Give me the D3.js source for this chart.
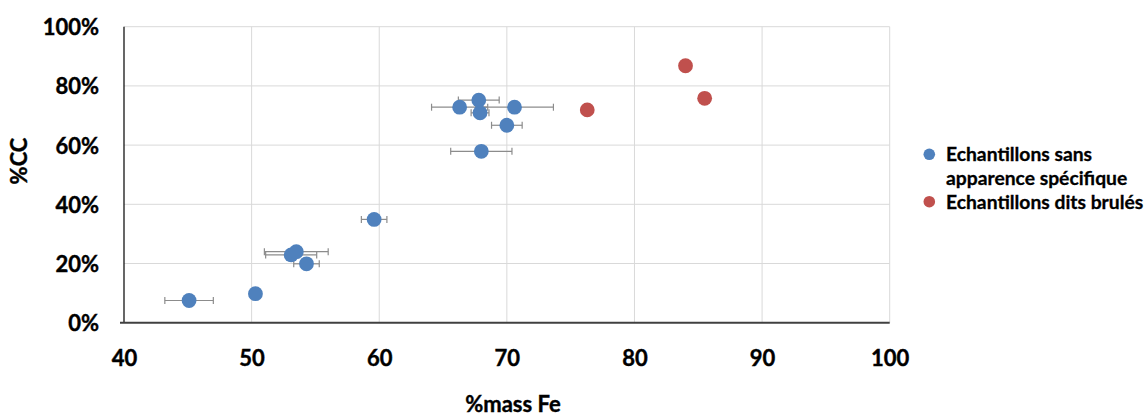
<!DOCTYPE html>
<html>
<head>
<meta charset="utf-8">
<script src="https://cdn.jsdelivr.net/npm/d3@7/dist/d3.min.js"></script>
<style>
  html, body { margin: 0; padding: 0; background: #ffffff; }
  svg { display: block; }
  text { font-family: Lato, "Open Sans", "DejaVu Sans", sans-serif; font-weight: bold; fill: #000; }
</style>
</head>
<body>
<svg id="chart" width="1146" height="415"></svg>
<script>
// ---- data ----
const seriesNames = ["Echantillons sans apparence spécifique", "Echantillons dits brulés"];
const legendLines = [["Echantillons sans", "apparence spécifique"], ["Echantillons dits brulés"]];
const blueX   = [45.1, 50.3, 53.1, 53.5, 54.3, 59.6, 66.3, 67.8, 67.9, 70.6, 70.0, 68.0];
const blueY   = [7.5, 9.8, 22.9, 24.0, 19.9, 34.9, 72.8, 75.2, 70.9, 72.8, 66.7, 57.9];
const blueErr = [1.9, 0, 2.0, 2.5, 1.0, 1.0, 2.2, 1.6, 0.7, 3.05, 1.2, 2.4];
const redX    = [76.3, 84.0, 85.5];
const redY    = [71.9, 86.8, 75.8];
const xTicks  = [40, 50, 60, 70, 80, 90, 100];
const yTicks  = [0, 20, 40, 60, 80, 100];
const xTitle  = "%mass Fe";
const yTitle  = "%CC";
const colors  = ["#4f81bd", "#c0504d"];

// ---- layout ----
const svg = d3.select("#chart");
const pLeft = 124, pRight = 889.7, pTop = 26.7, pBottom = 322.7;
const x = d3.scaleLinear().domain([40, 100]).range([pLeft, pRight]);
const y = d3.scaleLinear().domain([0, 100]).range([pBottom, pTop]);

// gridlines
const grid = svg.append("g");
grid.selectAll("line.gx").data(xTicks.slice(1)).join("line")
  .attr("x1", d => x(d)).attr("x2", d => x(d))
  .attr("y1", pTop).attr("y2", pBottom)
  .attr("stroke", "#d9d9d9").attr("stroke-width", 1);
grid.selectAll("line.gy").data(yTicks.slice(1)).join("line")
  .attr("x1", pLeft).attr("x2", pRight)
  .attr("y1", d => y(d)).attr("y2", d => y(d))
  .attr("stroke", "#d9d9d9").attr("stroke-width", 1);

// axes
const xAxis = d3.axisBottom(x).tickValues(xTicks).tickSize(0).tickPadding(34).tickFormat(d3.format("d"));
const gx = svg.append("g").attr("transform", `translate(0,${pBottom})`).call(xAxis);
gx.select(".domain").remove();
gx.selectAll("text").attr("font-size", 22).attr("font-family", null).attr("dy", null).attr("y", 43)
  .attr("stroke", "#000").attr("stroke-width", 0.4);

const yAxis = d3.axisLeft(y).tickValues(yTicks).tickSize(0).tickPadding(25).tickFormat(d => d + "%");
const gy = svg.append("g").attr("transform", `translate(${pLeft},0)`).call(yAxis);
gy.select(".domain").remove();
gy.selectAll("text").attr("font-size", 22).attr("font-family", null).attr("dy", "0.36em")
  .attr("stroke", "#000").attr("stroke-width", 0.4);

// axis lines
svg.append("line").attr("x1", pLeft).attr("x2", pLeft).attr("y1", pTop).attr("y2", pBottom)
  .attr("stroke", "#000").attr("stroke-width", 1.2);
svg.append("line").attr("x1", pLeft - 4).attr("x2", pRight).attr("y1", pBottom).attr("y2", pBottom)
  .attr("stroke", "#404040").attr("stroke-width", 2);

// titles
svg.append("text").attr("x", 513).attr("y", 411.5).attr("text-anchor", "middle")
  .attr("font-size", 22).attr("stroke", "#000").attr("stroke-width", 0.4).text(xTitle);
svg.append("text").attr("transform", "translate(27,161) rotate(-90)").attr("text-anchor", "middle")
  .attr("font-size", 22).attr("stroke", "#000").attr("stroke-width", 0.4).text(yTitle);

// error bars
const blue = blueX.map((v, i) => ({x: v, y: blueY[i], e: blueErr[i]}));
const red = redX.map((v, i) => ({x: v, y: redY[i]}));
const eb = svg.append("g").attr("stroke", "#8c8c8c").attr("stroke-width", 1.2);
blue.filter(d => d.e > 0).forEach(d => {
  eb.append("line").attr("x1", x(d.x - d.e)).attr("x2", x(d.x + d.e)).attr("y1", y(d.y)).attr("y2", y(d.y));
  [d.x - d.e, d.x + d.e].forEach(v => {
    eb.append("line").attr("x1", x(v)).attr("x2", x(v)).attr("y1", y(d.y) - 3.5).attr("y2", y(d.y) + 3.5);
  });
});

// points
svg.append("g").selectAll("circle").data(blue).join("circle")
  .attr("cx", d => x(d.x)).attr("cy", d => y(d.y)).attr("r", 7.4).attr("fill", colors[0]);
svg.append("g").selectAll("circle").data(red).join("circle")
  .attr("cx", d => x(d.x)).attr("cy", d => y(d.y)).attr("r", 7.4).attr("fill", colors[1]);

// legend
const lg = svg.append("g");
const legendY = [154.3, 201.7];
legendLines.forEach((lines, i) => {
  lg.append("circle").attr("cx", 929.3).attr("cy", legendY[i]).attr("r", 5.8).attr("fill", colors[i]);
  lines.forEach((t, j) => {
    lg.append("text").attr("x", 946).attr("y", legendY[i] + 7 + j * 23.5)
      .attr("font-size", 19.3).attr("stroke", "#000").attr("stroke-width", 0.3).text(t);
  });
});
</script>
</body>
</html>
